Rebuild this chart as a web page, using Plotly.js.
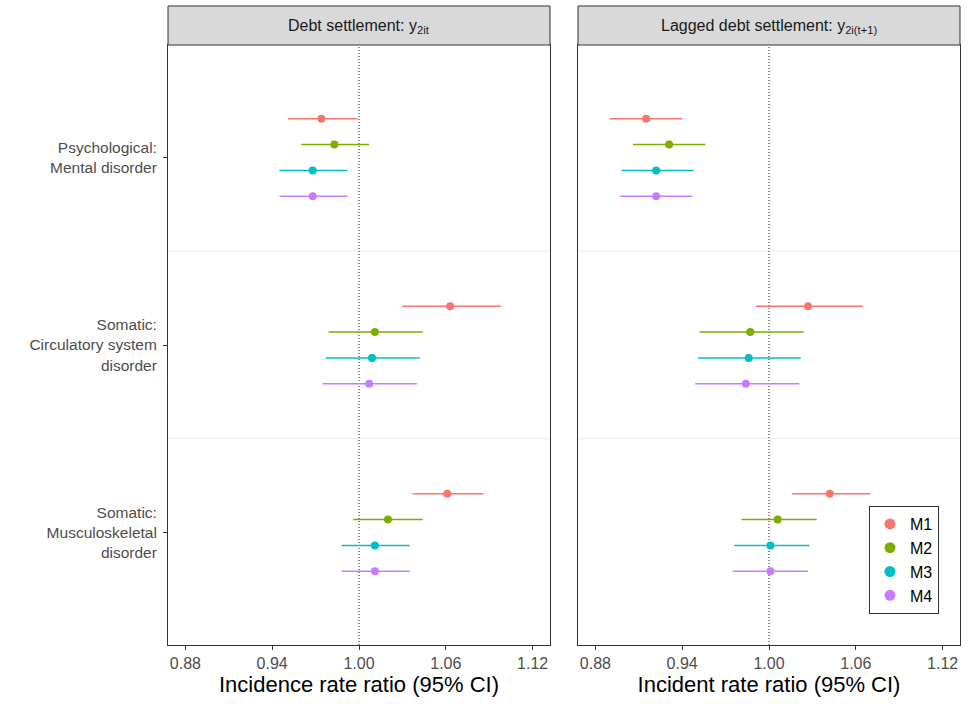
<!DOCTYPE html>
<html>
<head>
<meta charset="utf-8">
<script src="https://cdn.plot.ly/plotly-3.0.1.min.js"></script>
<style>
html,body{margin:0;padding:0;background:#fff;}
#chart{width:969px;height:704px;}
</style>
</head>
<body>
<div id="chart"></div>
<script>
// ---------- data ----------
const categories = ["Psychological:<br>Mental disorder", "Somatic:<br>Circulatory system<br>disorder", "Somatic:<br>Musculoskeletal<br>disorder"];
const models = ["M1", "M2", "M3", "M4"];
const modelColors = ["#F8766D", "#7CAE00", "#00BFC4", "#C77CFF"];
const panelTitles = ["Debt settlement: y<sub>2it</sub>", "Lagged debt settlement: y<sub>2i(t+1)</sub>"];
const xTitles = ["Incidence rate ratio (95% CI)", "Incident rate ratio (95% CI)"];
const xTicks = [0.88, 0.94, 1.00, 1.06, 1.12];
const xTickText = ["0.88", "0.94", "1.00", "1.06", "1.12"];

// Panel 1: Debt settlement
const debtM1est = [0.974, 1.063, 1.061], debtM1lo = [0.951, 1.030, 1.037], debtM1hi = [0.999, 1.098, 1.086];
const debtM2est = [0.983, 1.011, 1.020], debtM2lo = [0.960, 0.979, 0.996], debtM2hi = [1.007, 1.044, 1.044];
const debtM3est = [0.968, 1.009, 1.011], debtM3lo = [0.945, 0.977, 0.988], debtM3hi = [0.992, 1.042, 1.035];
const debtM4est = [0.968, 1.007, 1.011], debtM4lo = [0.945, 0.975, 0.988], debtM4hi = [0.992, 1.040, 1.035];

// Panel 2: Lagged debt settlement
const lagM1est = [0.915, 1.027, 1.042], lagM1lo = [0.890, 0.991, 1.016], lagM1hi = [0.940, 1.065, 1.070];
const lagM2est = [0.931, 0.987, 1.006], lagM2lo = [0.906, 0.952, 0.981], lagM2hi = [0.956, 1.024, 1.033];
const lagM3est = [0.922, 0.986, 1.001], lagM3lo = [0.898, 0.951, 0.976], lagM3hi = [0.948, 1.022, 1.028];
const lagM4est = [0.922, 0.984, 1.001], lagM4lo = [0.897, 0.949, 0.975], lagM4hi = [0.947, 1.021, 1.027];

const panels = [
  [[debtM1est, debtM1lo, debtM1hi], [debtM2est, debtM2lo, debtM2hi], [debtM3est, debtM3lo, debtM3hi], [debtM4est, debtM4lo, debtM4hi]],
  [[lagM1est, lagM1lo, lagM1hi], [lagM2est, lagM2lo, lagM2hi], [lagM3est, lagM3lo, lagM3hi], [lagM4est, lagM4lo, lagM4hi]]
];

// ---------- build ----------
const W = 969, H = 704;
const FONT = "Liberation Sans, Arial, Helvetica, sans-serif";
const dodge = 0.138;
const traces = [];
panels.forEach((panel, p) => {
  const xa = p === 0 ? "x" : "x2", ya = p === 0 ? "y" : "y2";
  panel.forEach((m, mi) => {
    const [est, lo, hi] = m;
    traces.push({
      type: "scatter", mode: "markers",
      x: est,
      y: categories.map((c, ci) => ci + 1 + (mi - 1.5) * dodge),
      xaxis: xa, yaxis: ya,
      marker: {color: modelColors[mi], size: 8},
      error_x: {type: "data", symmetric: false,
        array: est.map((v, i) => hi[i] - v),
        arrayminus: est.map((v, i) => v - lo[i]),
        color: modelColors[mi], thickness: 1.4, width: 0},
      showlegend: false, hoverinfo: "x"
    });
  });
});
// legend entries
models.forEach((m, mi) => {
  traces.push({type: "scatter", mode: "markers", x: [null], y: [null],
    xaxis: "x2", yaxis: "y2", name: m,
    marker: {color: modelColors[mi], size: 11}, showlegend: true});
});

const px = v => v / W, py = v => 1 - v / H;
const dom1 = [px(168), px(550)], dom2 = [px(578), px(960)];
const ydom = [py(645), py(45)];

function xaxis(dom, title) {
  return {domain: dom, range: [0.868, 1.132], tickvals: xTicks, ticktext: xTickText,
    ticks: "outside", ticklen: 4, tickwidth: 1, tickcolor: "#333333",
    tickfont: {family: FONT, size: 16, color: "#4D4D4D"},
    showgrid: false, zeroline: false, showline: true, mirror: true,
    linecolor: "#333333", linewidth: 1,
    title: {text: title, font: {family: FONT, size: 22, color: "#000"}, standoff: 4},
    fixedrange: true};
}
function yaxis(anchor, showLabels) {
  return {domain: ydom, range: [3.6, 0.4], anchor: anchor,
    tickvals: [1, 2, 3], ticktext: categories,
    showticklabels: showLabels, ticks: showLabels ? "outside" : "",
    ticklen: 4, tickwidth: 1, tickcolor: "#333333", ticklabelstandoff: 3,
    tickfont: {family: FONT, size: 15.5, color: "#4D4D4D"},
    showgrid: false, zeroline: false, showline: true, mirror: true,
    linecolor: "#333333", linewidth: 1, fixedrange: true};
}

const shapes = [], annotations = [];
[["x", "y", dom1], ["x2", "y2", dom2]].forEach(([xa, ya, dom], p) => {
  [1.5, 2.5].forEach(v => shapes.push({type: "line", xref: xa + " domain", yref: ya,
    x0: 0, x1: 1, y0: v, y1: v, line: {color: "#EBEBEB", width: 1}, layer: "below"}));
  shapes.push({type: "line", xref: xa, yref: ya + " domain", x0: 1, x1: 1, y0: 0, y1: 1,
    line: {color: "#222", width: 1, dash: "1px,2px"}, layer: "below"});
  shapes.push({type: "rect", xref: "paper", yref: "paper", x0: dom[0], x1: dom[1],
    y0: py(45), y1: py(6), fillcolor: "#D9D9D9", line: {color: "#333333", width: 1}});
  annotations.push({xref: "paper", yref: "paper", x: (dom[0] + dom[1]) / 2, y: py(26),
    xanchor: "center", yanchor: "middle", showarrow: false, text: panelTitles[p],
    font: {family: FONT, size: 16, color: "#1A1A1A"}});
});

const layout = {
  width: W, height: H, margin: {l: 0, r: 0, t: 0, b: 0},
  paper_bgcolor: "#fff", plot_bgcolor: "#fff",
  font: {family: FONT},
  xaxis: xaxis(dom1, xTitles[0]), yaxis: yaxis("x", true),
  xaxis2: xaxis(dom2, xTitles[1]), yaxis2: yaxis("x2", false),
  shapes: shapes, annotations: annotations,
  showlegend: true,
  legend: {x: px(869), y: py(506), xanchor: "left", yanchor: "top",
    bgcolor: "#fff", bordercolor: "#333333", borderwidth: 1,
    font: {family: FONT, size: 16, color: "#000"}, tracegroupgap: 0, itemwidth: 30}
};

Plotly.newPlot("chart", traces, layout, {staticPlot: true});
</script>
</body>
</html>
